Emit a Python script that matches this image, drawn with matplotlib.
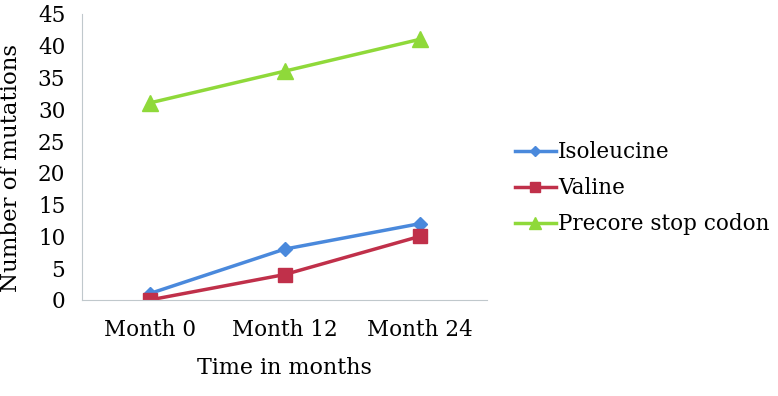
import matplotlib
matplotlib.use("Agg")
import matplotlib.pyplot as plt

categories = ["Month 0", "Month 12", "Month 24"]
isoleucine = [1, 8, 12]
valine = [0, 4, 10]
precore = [31, 36, 41]
yticks = [0, 5, 10, 15, 20, 25, 30, 35, 40, 45]

plt.rcParams['font.family'] = ['DejaVu Serif']

fig = plt.figure(figsize=(7.78, 3.96), dpi=100)
ax = fig.add_axes([82/778, 96/396, 405/778, 286/396])
x = [0.5, 1.5, 2.5]
ax.plot(x, isoleucine, color='#4a89dc', marker='D', markersize=7, lw=2.5, label='Isoleucine')
ax.plot(x, valine, color='#c0304a', marker='s', markersize=10, lw=2.5, label='Valine')
ax.plot(x, precore, color='#8fd93a', marker='^', markersize=11, lw=2.5, label='Precore stop codon')
ax.set_xlim(0, 3)
ax.set_ylim(0, 45)
ax.set_yticks(yticks)
ax.set_xticks(x)
ax.set_xticklabels(categories)
for s in ['top', 'right']:
    ax.spines[s].set_visible(False)
for s in ['left', 'bottom']:
    ax.spines[s].set_color('#c0c8cc')
    ax.spines[s].set_clip_on(False)
ax.tick_params(axis='y', length=0, labelsize=15.5, pad=12)
ax.tick_params(axis='x', length=0, labelsize=15.5, pad=14)
ax.set_ylabel('Number of mutations', fontsize=16.5)
ax.yaxis.set_label_coords(-0.148, 0.46)
ax.set_xlabel('Time in months', fontsize=16, labelpad=11)
leg = ax.legend(loc='center left', bbox_to_anchor=((515-82)/405, 0.39), frameon=False,
                fontsize=15.5, handlelength=1.9, handletextpad=0.1, labelspacing=0.65, borderaxespad=0,
                borderpad=0, markerscale=0.75)
fig.savefig('out.png', dpi=100)
